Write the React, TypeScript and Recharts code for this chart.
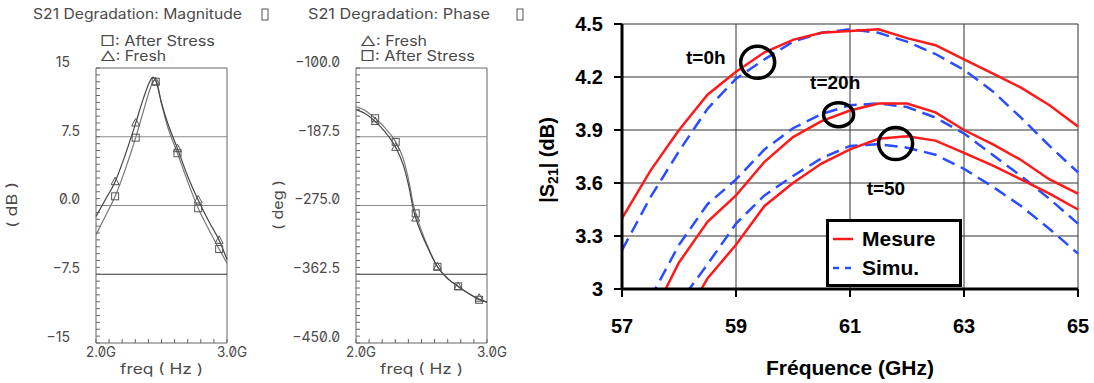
import React from 'react';
import {
  ComposedChart,
  LineChart,
  Line,
  Scatter,
  XAxis,
  YAxis,
  CartesianGrid,
  ReferenceLine,
  ReferenceArea,
  ReferenceDot,
} from 'recharts';

// --- left panels (Cadence plots), frequency in GHz ---
const curveFreq = [2.0, 2.07, 2.146, 2.22, 2.303, 2.36, 2.41, 2.435, 2.456, 2.5, 2.54, 2.622, 2.7, 2.78, 2.86, 2.94, 3.0];
const magFresh = [-1.2, 0.6, 2.6, 5.4, 9.0, 11.6, 13.5, 14.0, 13.6, 11.2, 9.3, 6.2, 3.2, 0.6, -1.7, -3.8, -5.9];
const magStress = [-3.2, -1.2, 1.0, 3.8, 7.4, 10.2, 12.6, 13.5, 13.7, 11.1, 8.9, 5.7, 2.6, -0.3, -2.6, -4.75, -6.3];

const phaseFresh = [-153, -158, -168, -181, -201, -223, -256, -278, -291, -311, -326, -353, -368, -378, -387, -394, -398];
const phaseStress = [-149, -154, -164, -176, -194, -215, -249, -272, -285, -307, -324, -353, -368, -378, -387, -395, -398];

const markFreq = [2.146, 2.303, 2.456, 2.622, 2.78, 2.94];
const magFreshMarks = [2.6, 9.0, 13.5, 6.2, 0.6, -3.8];
const magStressMarks = [1.0, 7.4, 13.5, 5.7, -0.3, -4.75];
const phaseFreshMarks = [-168, -201, -291, -353, -378, -393];
const phaseStressMarks = [-164, -194, -285, -353, -378, -395];

const magLabels = ['15', '7.5', '0.0', '\u22127.5', '\u221215'];
const phaseLabels = ['\u2212100.0', '\u2212187.5', '\u2212275.0', '\u2212362.5', '\u2212450.0'];

// --- right panel: |S21| vs frequence for t = 0h, 20h, 50h ---
const rfFreq = [57, 57.5, 58, 58.5, 59, 59.5, 60, 60.5, 61, 61.5, 62, 62.5, 63, 63.5, 64, 64.5, 65];
const mesureT0 = [3.4, 3.67, 3.9, 4.1, 4.23, 4.34, 4.41, 4.45, 4.46, 4.47, 4.42, 4.38, 4.3, 4.22, 4.14, 4.04, 3.92];
const simuT0 = [3.22, 3.52, 3.78, 4.02, 4.19, 4.3, 4.4, 4.45, 4.47, 4.45, 4.4, 4.33, 4.24, 4.12, 3.97, 3.81, 3.66];
const mesureT20 = [2.55, 2.83, 3.15, 3.38, 3.53, 3.72, 3.86, 3.95, 4.01, 4.05, 4.05, 4.0, 3.9, 3.82, 3.73, 3.62, 3.54];
const simuT20 = [2.65, 2.95, 3.25, 3.48, 3.62, 3.79, 3.91, 3.99, 4.04, 4.05, 4.03, 3.97, 3.88, 3.76, 3.64, 3.51, 3.37];
const mesureT50 = [2.3, 2.55, 2.78, 3.06, 3.25, 3.47, 3.6, 3.71, 3.79, 3.85, 3.865, 3.84, 3.77, 3.7, 3.62, 3.54, 3.45];
const simuT50 = [2.4, 2.65, 2.92, 3.14, 3.37, 3.53, 3.64, 3.74, 3.81, 3.82, 3.8, 3.76, 3.68, 3.58, 3.47, 3.34, 3.2];
const rfXTicks = [57, 59, 61, 63, 65];
const rfYTicks = [3, 3.3, 3.6, 3.9, 4.2, 4.5];

const CAD_FONT = 'Inter, "DejaVu Sans", sans-serif';
const CAD_TEXT = '#4a4a4a';
const BOLD_FONT = '"Liberation Sans", Arial, sans-serif';
const RED = '#ff1a1a';
const BLUE = '#2a4dff';

const squareShape = (p: any) => (
  <rect x={p.cx - 3.5} y={p.cy - 3.5} width={7} height={7} fill="none" stroke="#555" strokeWidth={1} />
);
const triShape = (p: any) => (
  <polygon
    points={`${p.cx},${p.cy - 4.5} ${p.cx - 4},${p.cy + 3} ${p.cx + 4},${p.cy + 3}`}
    fill="none"
    stroke="#555"
    strokeWidth={1}
  />
);

interface CadenceProps {
  left: number;
  fresh: number[];
  stress: number[];
  freshMarks: number[];
  stressMarks: number[];
  yMin: number;
  yMax: number;
  labels: string[];
}

function CadencePanel({ left, fresh, stress, freshMarks, stressMarks, yMin, yMax, labels }: CadenceProps) {
  const curve = curveFreq.map((f, i) => ({ f, fresh: fresh[i], stress: stress[i] }));
  const marks = markFreq.map((f, i) => ({ f, fresh: freshMarks[i], stress: stressMarks[i] }));
  const step = (yMax - yMin) / 40;
  const yTicks = Array.from({ length: 41 }, (_, i) => +(yMin + i * step).toFixed(4));
  const xTicks = Array.from({ length: 11 }, (_, i) => +(2 + i * 0.1).toFixed(2));
  const majors = [4, 3, 2, 1, 0].map((k) => +(yMin + k * 10 * step).toFixed(4));

  const YTick = (p: any) => {
    const idx = majors.findIndex((m) => Math.abs(m - p.payload.value) < 1e-6);
    const lab = idx >= 0 ? labels[idx] : null;
    const shortLab = lab === '15' || lab === '\u221215';
    return (
      <g>
        <line x1={p.x} x2={p.x + 4} y1={p.y} y2={p.y} stroke="#666" />
        {lab && (
          <text
            x={p.x - (shortLab ? 26 : 16)}
            y={p.y - 5}
            textAnchor="end"
            dominantBaseline="middle"
            fontSize={14}
            fill={CAD_TEXT}
            fontFamily={CAD_FONT}
            style={{ fontFeatureSettings: '"zero" 1' }}
          >
            {lab}
          </text>
        )}
      </g>
    );
  };

  const XTick = (p: any) => {
    const v = p.payload.value;
    const lab = v === 2 ? '2.0G' : v === 3 ? '3.0G' : null;
    return (
      <g>
        <line x1={p.x} x2={p.x} y1={p.y} y2={p.y - 4} stroke="#666" />
        {lab && (
          <text
            x={p.x + 5}
            y={p.y + 10}
            textAnchor="middle"
            dominantBaseline="middle"
            fontSize={14}
            fill={CAD_TEXT}
            fontFamily={CAD_FONT}
            textLength={30}
            lengthAdjust="spacingAndGlyphs"
            style={{ fontFeatureSettings: '"zero" 1' }}
          >
            {lab}
          </text>
        )}
      </g>
    );
  };

  return (
    <div style={{ position: 'absolute', left, top: 0 }}>
      <ComposedChart width={270} height={383} data={curve} margin={{ top: 68, right: 43, bottom: 0, left: 0 }}>
        <XAxis
          dataKey="f"
          type="number"
          domain={[2, 3]}
          ticks={xTicks}
          interval={0}
          axisLine={false}
          tickLine={false}
          tickSize={0}
          tickMargin={0}
          height={40}
          tick={XTick}
        />
        <YAxis
          type="number"
          domain={[yMin, yMax]}
          ticks={yTicks}
          interval={0}
          axisLine={false}
          tickLine={false}
          tickSize={0}
          tickMargin={0}
          width={96}
          tick={YTick}
          allowDataOverflow
        />
        <ReferenceLine y={majors[1]} stroke="#8a8a8a" />
        <ReferenceLine y={majors[2]} stroke="#8a8a8a" />
        <ReferenceLine y={majors[3]} stroke="#333" />
        <ReferenceArea x1={2} x2={3} y1={yMin} y2={yMax} fill="none" stroke="#666" strokeWidth={1} />
        <Line dataKey="stress" type="monotone" stroke="#777" strokeWidth={1.2} dot={false} isAnimationActive={false} />
        <Line dataKey="fresh" type="monotone" stroke="#444" strokeWidth={1.2} dot={false} isAnimationActive={false} />
        <Scatter data={marks} dataKey="stress" shape={squareShape} isAnimationActive={false} />
        <Scatter data={marks} dataKey="fresh" shape={triShape} isAnimationActive={false} />
      </ComposedChart>
    </div>
  );
}

const ellipse = (rx: number, ry: number) => (p: any) => (
  <ellipse cx={p.cx} cy={p.cy} rx={rx} ry={ry} fill="none" stroke="#000" strokeWidth={3.5} />
);

const tLabel = (value: string) => ({
  value,
  position: 'center' as const,
  fill: '#000',
  fontSize: 19,
  fontWeight: 'bold',
  fontFamily: BOLD_FONT,
});

function RfPanel() {
  const data = rfFreq.map((f, i) => ({
    f,
    m0: mesureT0[i],
    s0: simuT0[i],
    m20: mesureT20[i],
    s20: simuT20[i],
    m50: mesureT50[i],
    s50: simuT50[i],
  }));
  const tickStyle = { fontSize: 20, fontWeight: 'bold', fill: '#000', fontFamily: BOLD_FONT };
  const solid = { stroke: RED, strokeWidth: 2.5, dot: false, type: 'linear' as const, isAnimationActive: false };
  const dashed = { stroke: BLUE, strokeWidth: 2.5, strokeDasharray: '13 7', dot: false, type: 'linear' as const, isAnimationActive: false };
  return (
    <div style={{ position: 'absolute', left: 520, top: 0 }}>
      <LineChart width={574} height={383} data={data} margin={{ top: 24, right: 16, bottom: 0, left: 0 }}>
        <CartesianGrid stroke="#333" strokeWidth={1} />
        <XAxis
          dataKey="f"
          type="number"
          domain={[57, 65]}
          ticks={rfXTicks}
          interval={0}
          height={94}
          axisLine={{ stroke: '#000', strokeWidth: 3 }}
          tickLine={{ stroke: '#000', strokeWidth: 2 }}
          tickSize={8}
          tickMargin={22}
          tick={tickStyle}
          label={{ value: 'Fréquence (GHz)', position: 'insideBottom', offset: 8, fill: '#000', fontSize: 21, fontWeight: 'bold', fontFamily: BOLD_FONT }}
        />
        <YAxis
          type="number"
          domain={[3, 4.5]}
          ticks={rfYTicks}
          interval={0}
          width={102}
          allowDataOverflow
          axisLine={{ stroke: '#000', strokeWidth: 3 }}
          tickLine={{ stroke: '#000', strokeWidth: 2 }}
          tickSize={8}
          tickMargin={11}
          tick={tickStyle}
          tickFormatter={(v: number) => String(v)}
        />
        <Line dataKey="s0" {...dashed} />
        <Line dataKey="s20" {...dashed} />
        <Line dataKey="s50" {...dashed} />
        <Line dataKey="m0" {...solid} />
        <Line dataKey="m20" {...solid} />
        <Line dataKey="m50" {...solid} />
        <ReferenceDot x={59.38} y={4.283} shape={ellipse(17, 16)} />
        <ReferenceDot x={60.8} y={3.987} shape={ellipse(15, 12)} />
        <ReferenceDot x={61.8} y={3.823} shape={ellipse(17, 16)} />
        <ReferenceDot x={58.47} y={4.31} r={0} label={tLabel('t=0h')} />
        <ReferenceDot x={60.74} y={4.17} r={0} label={tLabel('t=20h')} />
        <ReferenceDot x={61.63} y={3.57} r={0} label={tLabel('t=50')} />
      </LineChart>
    </div>
  );
}

export default function App() {
  const cad = { fontFamily: CAD_FONT, fontSize: 14, fill: CAD_TEXT };
  const legendRow = (top: number, label: string, dashed: boolean) => (
    <div style={{ position: 'absolute', left: 0, top: top - 13, height: 26, width: 130 }}>
      <svg width={22} height={26} style={{ position: 'absolute', left: 4, top: 0 }}>
        <line
          x1={0}
          x2={20}
          y1={13}
          y2={13}
          stroke={dashed ? BLUE : RED}
          strokeWidth={2.5}
          strokeDasharray={dashed ? '6 6' : undefined}
        />
      </svg>
      <span
        style={{
          position: 'absolute',
          left: 33,
          top: 0,
          lineHeight: '26px',
          fontFamily: BOLD_FONT,
          fontWeight: 'bold',
          fontSize: 21,
          color: '#000',
        }}
      >
        {label}
      </span>
    </div>
  );

  return (
    <div style={{ position: 'absolute', left: 0, top: 0, width: 1094, height: 383, background: '#fff', overflow: 'hidden' }}>
      <CadencePanel
        left={0}
        fresh={magFresh}
        stress={magStress}
        freshMarks={magFreshMarks}
        stressMarks={magStressMarks}
        yMin={-15}
        yMax={15}
        labels={magLabels}
      />
      <CadencePanel
        left={260}
        fresh={phaseFresh}
        stress={phaseStress}
        freshMarks={phaseFreshMarks}
        stressMarks={phaseStressMarks}
        yMin={-450}
        yMax={-100}
        labels={phaseLabels}
      />
      <RfPanel />
      <svg width={1094} height={383} style={{ position: 'absolute', left: 0, top: 0, pointerEvents: 'none' }}>
        <text x={33} y={15} dominantBaseline="middle" textLength={209} lengthAdjust="spacingAndGlyphs" {...cad}>
          S21 Degradation: Magnitude
        </text>
        <rect x={262} y={9} width={6} height={11} fill="none" stroke="#555" />
        <text x={308} y={15} dominantBaseline="middle" textLength={182} lengthAdjust="spacingAndGlyphs" {...cad}>
          S21 Degradation: Phase
        </text>
        <rect x={517} y={9} width={6} height={11} fill="none" stroke="#555" />
        <text x={100} y={42} dominantBaseline="middle" textLength={115} lengthAdjust="spacingAndGlyphs" {...cad}>
          □: After Stress
        </text>
        <text x={100} y={57} dominantBaseline="middle" textLength={66} lengthAdjust="spacingAndGlyphs" {...cad}>
          △: Fresh
        </text>
        <text x={360} y={42} dominantBaseline="middle" textLength={67} lengthAdjust="spacingAndGlyphs" {...cad}>
          △: Fresh
        </text>
        <text x={360} y={57} dominantBaseline="middle" textLength={115} lengthAdjust="spacingAndGlyphs" {...cad}>
          □: After Stress
        </text>
        <text x={120} y={370} dominantBaseline="middle" textLength={83} lengthAdjust="spacingAndGlyphs" {...cad}>
          freq ( Hz )
        </text>
        <text x={380} y={370} dominantBaseline="middle" textLength={83} lengthAdjust="spacingAndGlyphs" {...cad}>
          freq ( Hz )
        </text>
        <text
          transform="translate(13,205) rotate(-90)"
          textAnchor="middle"
          dominantBaseline="middle"
          textLength={46}
          lengthAdjust="spacingAndGlyphs"
          {...cad}
        >
          ( dB )
        </text>
        <text
          transform="translate(279,205) rotate(-90)"
          textAnchor="middle"
          dominantBaseline="middle"
          textLength={50}
          lengthAdjust="spacingAndGlyphs"
          {...cad}
        >
          ( deg )
        </text>
        <text
          transform="translate(549,160) rotate(-90)"
          textAnchor="middle"
          fontFamily={BOLD_FONT}
          fontWeight="bold"
          fontSize={20}
          fill="#000"
          dominantBaseline="middle"
        >
          |S<tspan fontSize={14} dy={5}>21</tspan>
          <tspan dy={-5}>| (dB)</tspan>
        </text>
      </svg>
      <div
        style={{
          position: 'absolute',
          left: 826,
          top: 219,
          width: 136,
          height: 68,
          boxSizing: 'border-box',
          border: '3px solid #000',
          background: '#fff',
        }}
      >
        {legendRow(17, 'Mesure', false)}
        {legendRow(46, 'Simu.', true)}
      </div>
    </div>
  );
}
